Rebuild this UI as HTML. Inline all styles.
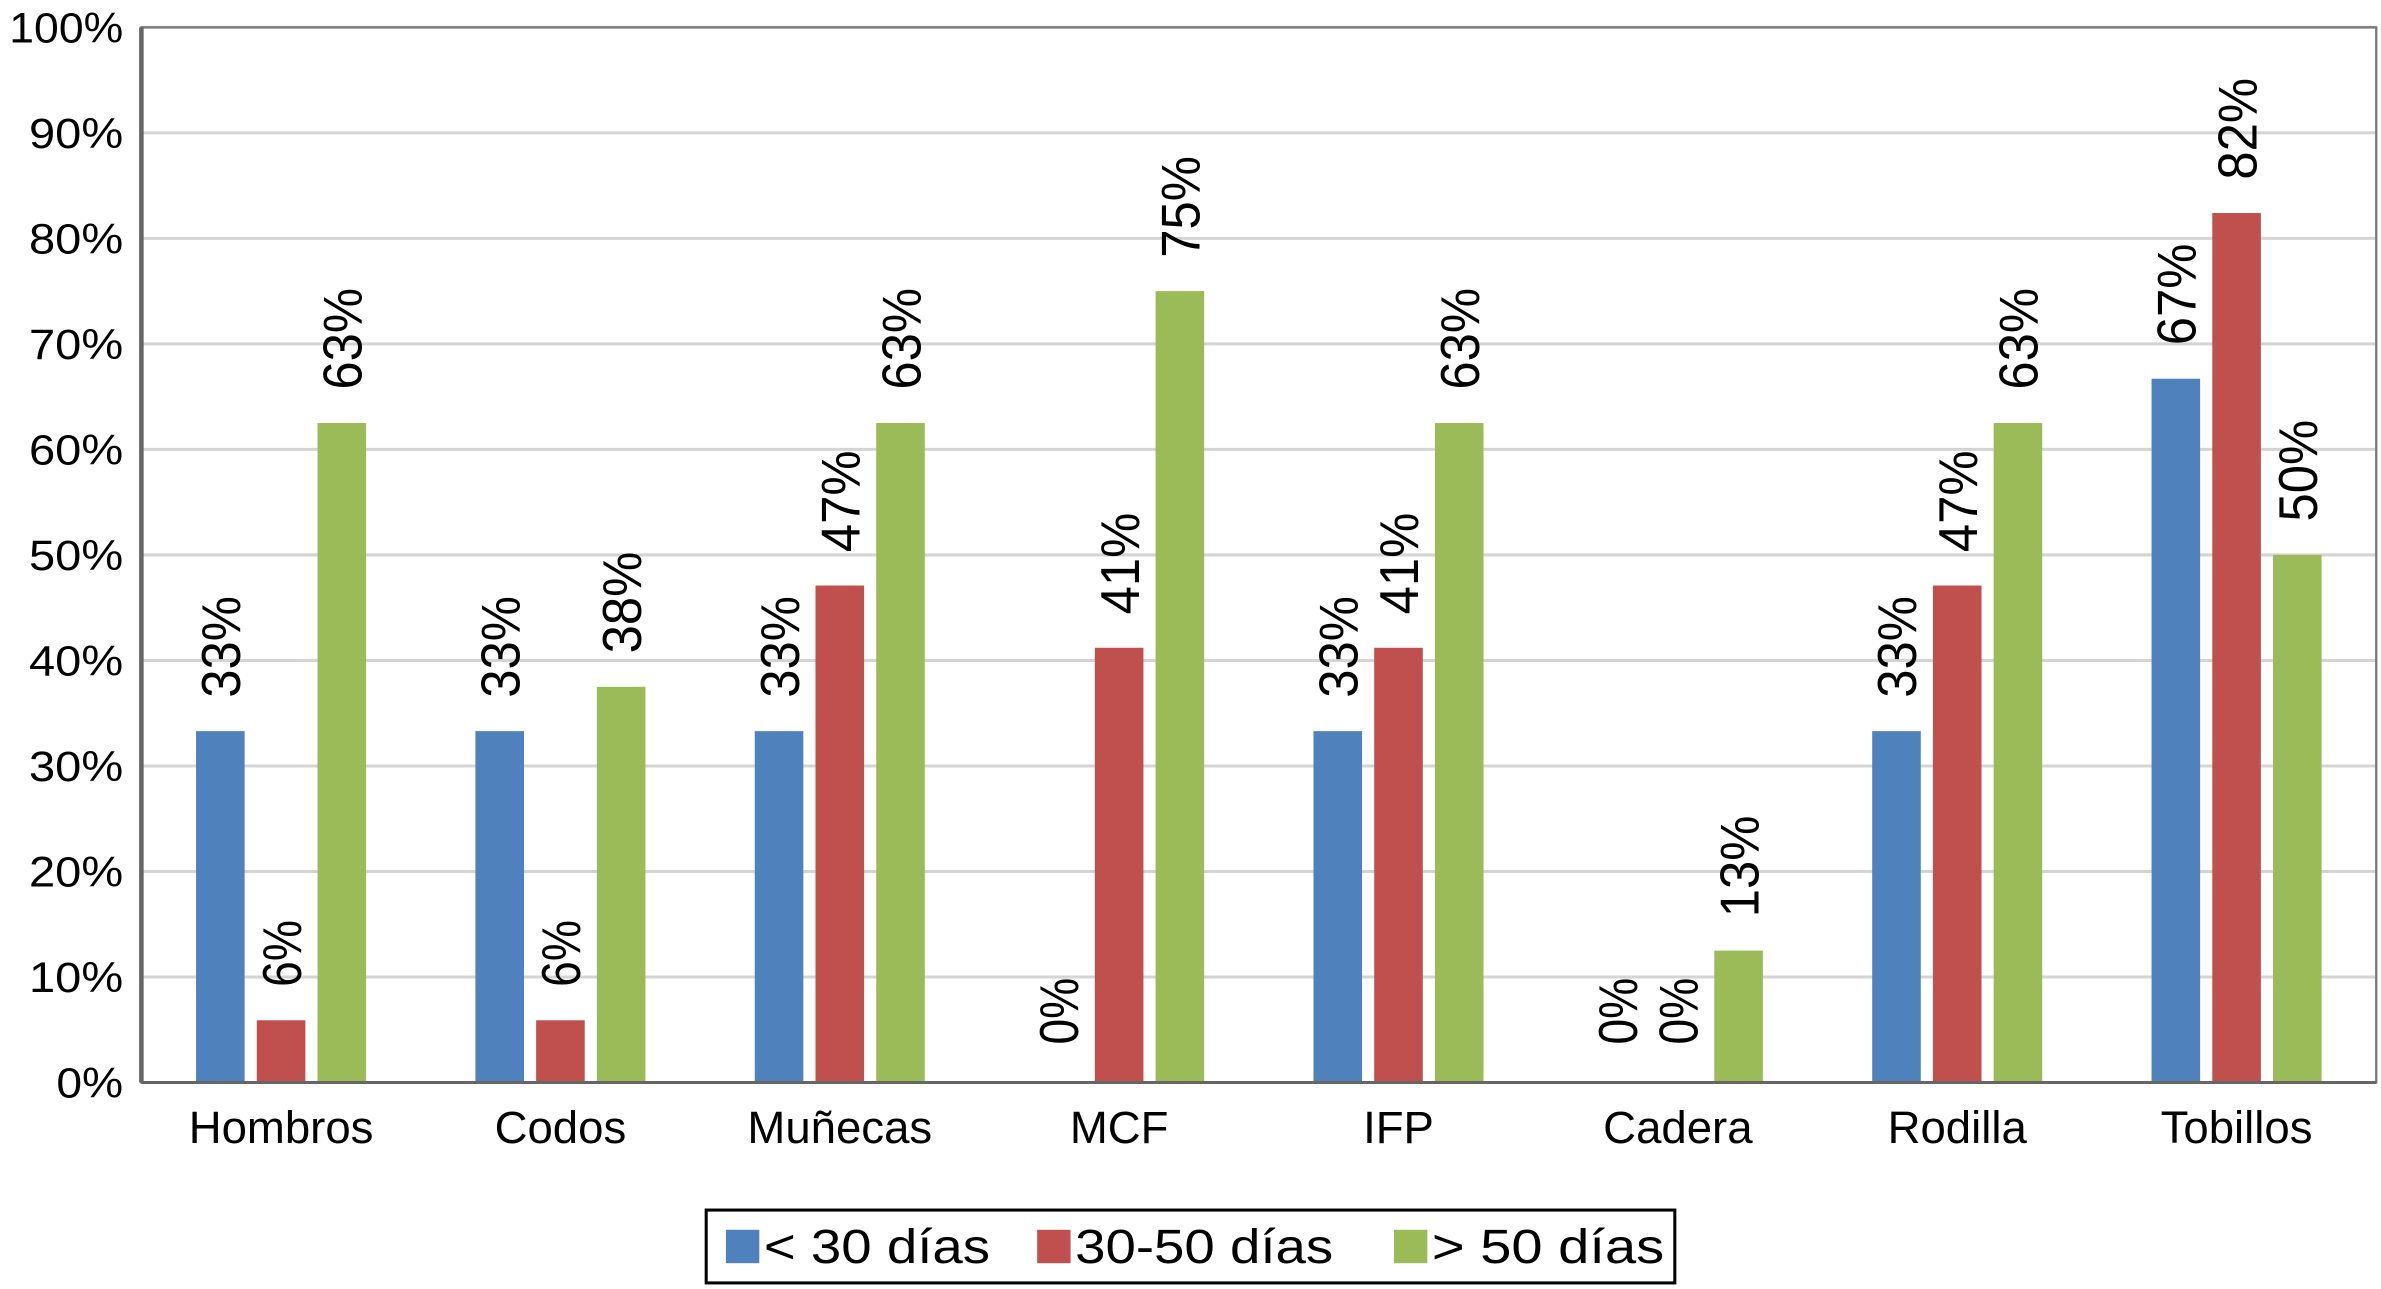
<!DOCTYPE html>
<html><head><meta charset="utf-8"><style>
html,body{margin:0;padding:0;background:#fff;}
svg{display:block;}
text{font-family:"Liberation Sans",Arial,sans-serif;fill:#000;}
</style></head><body>
<svg id="chart" width="2381" height="1289" viewBox="0 0 1568 849" xmlns="http://www.w3.org/2000/svg"></svg>
<script>
const categories = ["Hombros","Codos","Muñecas","MCF","IFP","Cadera","Rodilla","Tobillos"];
const seriesNames = ["< 30 días","30-50 días","> 50 días"];
const lt30 = [33.3,33.3,33.3,0,33.3,0,33.3,66.7];
const mid = [5.9,5.9,47.1,41.2,41.2,0,47.1,82.4];
const gt50 = [62.5,37.5,62.5,75,62.5,12.5,62.5,50];
const yTicks = [0,10,20,30,40,50,60,70,80,90,100];

const colors = ["#4f81bd","#c0504d","#9bbb59"];
const series = [lt30, mid, gt50];
const NS = "http://www.w3.org/2000/svg";
const svg = document.getElementById("chart");
const L = 93, R = 1565, T = 18, B = 713;
const y = v => B - (v/100)*(B-T);
const groupW = (R-L)/categories.length;
const xc = i => L + groupW*(i+0.5);
const barW = 32, off = 40;
function mk(tag, attrs, parent){
  const e = document.createElementNS(NS, tag);
  for (const k in attrs) e.setAttribute(k, attrs[k]);
  (parent||svg).appendChild(e); return e;
}
yTicks.forEach(t=>{
  if (t>0) {
    const g = mk("line",{x1:L,x2:R,y1:y(t),y2:y(t),stroke:"#d4d4d4","stroke-width":2});
    
    
  }
  const s = t+"%";
  const len = s.length===4?75:(s.length===3?62:44);
  const tx = mk("text",{x:81-len,y:y(t)+10,"font-size":28,textLength:len,lengthAdjust:"spacingAndGlyphs"});
  tx.textContent = s;
  
  
});
const fr = mk("rect",{x:L,y:T,width:R-L,height:B-T,fill:"none",stroke:"#777","stroke-width":1.5});


const ya = mk("line",{x1:L,x2:L,y1:T,y2:B,stroke:"#666","stroke-width":3});


categories.forEach((c,i)=>{
  series.forEach((s,j)=>{
    const v = s[i];
    const cx = xc(i) + (j-1)*off;
    const r = mk("rect",{x:cx-barW/2,y:y(v),width:barW,height:B-y(v),fill:colors[j]});
    
    
    const lab = Math.round(v)+"%";
    const ty = y(v) - (v>0?22:25);
    const len = lab.length===3?67:44;
    const t = mk("text",{x:0,y:0,"font-size":36,textLength:len,lengthAdjust:"spacingAndGlyphs",transform:`translate(${cx+13},${ty}) rotate(-90)`});
    t.textContent = lab;
    
    
  });
  const xl = mk("text",{x:xc(i),y:753,"text-anchor":"middle","font-size":30});
  xl.textContent = c;
  
  
});
const xa = mk("line",{x1:L,x2:R,y1:B,y2:B,stroke:"#666","stroke-width":2});


const lg = mk("g",{});


mk("rect",{x:465,y:797,width:638,height:48,fill:"#fff",stroke:"#000","stroke-width":2},lg);
const lx = [478,683,918], tw=[149,170,153];
seriesNames.forEach((n,j)=>{
  const sq = mk("rect",{x:lx[j],y:810,width:22,height:22,fill:colors[j]},lg);
  
  
  const t = mk("text",{x:lx[j]+25,y:832,"font-size":32,textLength:tw[j],lengthAdjust:"spacingAndGlyphs"},lg);
  t.textContent = n;
  
  
});
</script>
</body></html>
